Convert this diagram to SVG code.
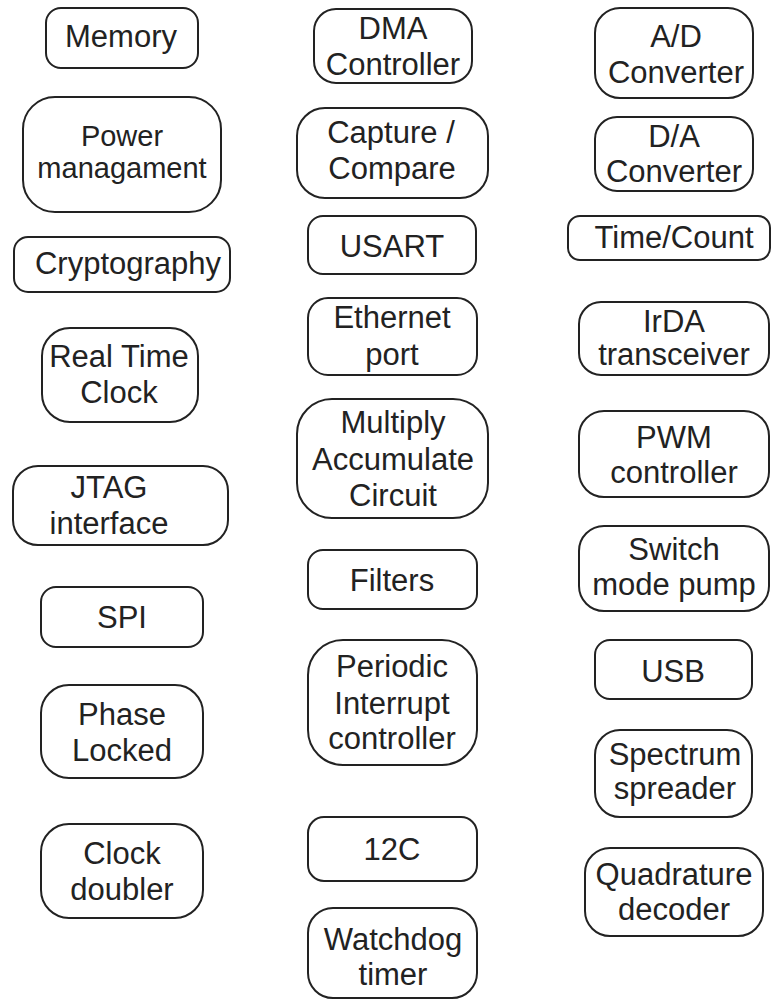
<svg xmlns="http://www.w3.org/2000/svg" width="772" height="1001" viewBox="0 0 772 1001">
  <style>
    .box { fill: #ffffff; stroke: #222222; stroke-width: 2; }
    .lbl { font-family: "Liberation Sans", Arial, sans-serif; font-size: 31px; fill: #222222; text-anchor: middle; }
    .sm { font-size: 29px; }
  </style>
  <rect width="772" height="1001" fill="#ffffff"/>

  <!-- left column -->
  <g id="memory">
    <rect class="box" x="46" y="8" width="152" height="60" rx="15"/>
    <text class="lbl" x="121" y="47">Memory</text>
  </g>
  <g id="power-management">
    <rect class="box" x="23" y="97" width="198" height="115" rx="32"/>
    <text class="lbl sm" x="122" y="146">Power</text>
    <text class="lbl sm" x="122" y="178">managament</text>
  </g>
  <g id="cryptography">
    <rect class="box" x="14" y="237" width="216" height="55" rx="14"/>
    <text class="lbl" x="128" y="274">Cryptography</text>
  </g>
  <g id="real-time-clock">
    <rect class="box" x="42" y="328" width="156" height="94" rx="28"/>
    <text class="lbl" x="119" y="367">Real Time</text>
    <text class="lbl" x="119" y="403">Clock</text>
  </g>
  <g id="jtag">
    <rect class="box" x="13" y="466" width="215" height="79" rx="25"/>
    <text class="lbl" x="109" y="498">JTAG</text>
    <text class="lbl" x="109" y="534">interface</text>
  </g>
  <g id="spi">
    <rect class="box" x="41" y="587" width="162" height="60" rx="15"/>
    <text class="lbl" x="122" y="628">SPI</text>
  </g>
  <g id="phase-locked">
    <rect class="box" x="41" y="685" width="162" height="93" rx="28"/>
    <text class="lbl" x="122" y="725">Phase</text>
    <text class="lbl" x="122" y="761">Locked</text>
  </g>
  <g id="clock-doubler">
    <rect class="box" x="41" y="824" width="162" height="94" rx="28"/>
    <text class="lbl" x="122" y="864">Clock</text>
    <text class="lbl" x="122" y="900">doubler</text>
  </g>

  <!-- middle column -->
  <g id="dma">
    <rect class="box" x="314" y="9" width="158" height="74" rx="22"/>
    <text class="lbl" x="393" y="39">DMA</text>
    <text class="lbl" x="393" y="75">Controller</text>
  </g>
  <g id="capture-compare">
    <rect class="box" x="297" y="108" width="191" height="90" rx="28"/>
    <text class="lbl" x="391" y="143">Capture /</text>
    <text class="lbl" x="392" y="179">Compare</text>
  </g>
  <g id="usart">
    <rect class="box" x="308" y="216" width="168" height="58" rx="15"/>
    <text class="lbl" x="392" y="257">USART</text>
  </g>
  <g id="ethernet">
    <rect class="box" x="308" y="298" width="169" height="77" rx="20"/>
    <text class="lbl" x="392" y="328">Ethernet</text>
    <text class="lbl" x="392" y="365">port</text>
  </g>
  <g id="mac">
    <rect class="box" x="297" y="399" width="191" height="119" rx="35"/>
    <text class="lbl" x="393" y="433">Multiply</text>
    <text class="lbl" x="393" y="470">Accumulate</text>
    <text class="lbl" x="393" y="506">Circuit</text>
  </g>
  <g id="filters">
    <rect class="box" x="308" y="550" width="169" height="59" rx="15"/>
    <text class="lbl" x="392" y="591">Filters</text>
  </g>
  <g id="periodic-interrupt">
    <rect class="box" x="308" y="640" width="169" height="125" rx="35"/>
    <text class="lbl" x="392" y="677">Periodic</text>
    <text class="lbl" x="392" y="714">Interrupt</text>
    <text class="lbl" x="392" y="749">controller</text>
  </g>
  <g id="i2c">
    <rect class="box" x="308" y="817" width="169" height="64" rx="16"/>
    <text class="lbl" x="392" y="860">12C</text>
  </g>
  <g id="watchdog">
    <rect class="box" x="308" y="908" width="169" height="90" rx="25"/>
    <text class="lbl" x="393" y="950">Watchdog</text>
    <text class="lbl" x="393" y="985">timer</text>
  </g>

  <!-- right column -->
  <g id="adc">
    <rect class="box" x="595" y="8" width="158" height="90" rx="25"/>
    <text class="lbl" x="676" y="47">A/D</text>
    <text class="lbl" x="676" y="83">Converter</text>
  </g>
  <g id="dac">
    <rect class="box" x="595" y="117" width="158" height="74" rx="22"/>
    <text class="lbl" x="674" y="147">D/A</text>
    <text class="lbl" x="674" y="182">Converter</text>
  </g>
  <g id="timer-counter">
    <rect class="box" x="568" y="216" width="202" height="44" rx="12"/>
    <text class="lbl" x="674" y="248">Time/Count</text>
  </g>
  <g id="irda">
    <rect class="box" x="579" y="302" width="190" height="73" rx="22"/>
    <text class="lbl" x="674" y="332">IrDA</text>
    <text class="lbl" x="674" y="365">transceiver</text>
  </g>
  <g id="pwm">
    <rect class="box" x="579" y="411" width="190" height="86" rx="25"/>
    <text class="lbl" x="674" y="448">PWM</text>
    <text class="lbl" x="674" y="483">controller</text>
  </g>
  <g id="switch-mode-pump">
    <rect class="box" x="579" y="526" width="190" height="85" rx="25"/>
    <text class="lbl" x="674" y="560">Switch</text>
    <text class="lbl" x="674" y="595">mode pump</text>
  </g>
  <g id="usb">
    <rect class="box" x="595" y="640" width="157" height="59" rx="15"/>
    <text class="lbl" x="673" y="682">USB</text>
  </g>
  <g id="spectrum-spreader">
    <rect class="box" x="595" y="730" width="157" height="87" rx="25"/>
    <text class="lbl" x="675" y="765">Spectrum</text>
    <text class="lbl" x="675" y="799">spreader</text>
  </g>
  <g id="quadrature-decoder">
    <rect class="box" x="585" y="848" width="178" height="88" rx="25"/>
    <text class="lbl" x="674" y="885">Quadrature</text>
    <text class="lbl" x="674" y="920">decoder</text>
  </g>
</svg>
